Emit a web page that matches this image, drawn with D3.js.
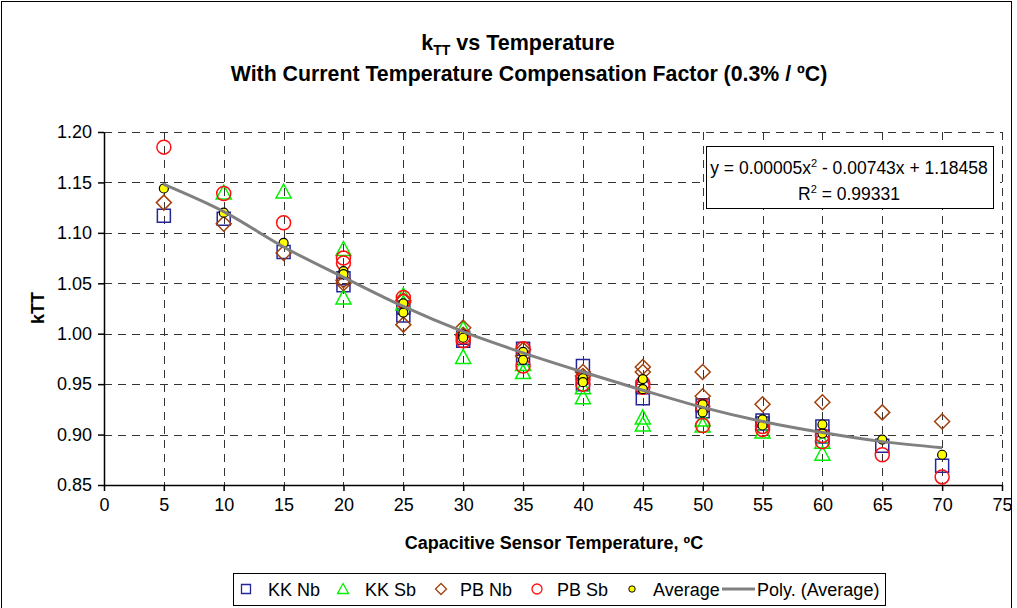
<!DOCTYPE html>
<html>
<head>
<meta charset="utf-8">
<script src="https://cdn.jsdelivr.net/npm/d3@7"></script>
<style>
  body { margin: 0; background: #fff; }
  text { font-family: "Liberation Sans", Arial, sans-serif; }
</style>
</head>
<body>
<div id="chart"></div>
<script>
var svgWidth = 1017;
var svgHeight = 608;

// plot area in page pixels
var margin = { top: 132, right: 15, bottom: 122, left: 104 };
var plotWidth = 1002 - margin.left;
var plotHeight = 485 - margin.top;

// Data: [temperature, kTT]
var kkNb = [[5,1.117],[10,1.114],[15,1.081],[20,1.055],[20,1.048],[25,1.026],[25,1.018],
  [30,0.996],[30,0.993],[35,0.985],[35,0.976],[40,0.968],[40,0.950],[45,0.947],[45,0.936],
  [50,0.929],[50,0.923],[55,0.914],[55,0.911],[60,0.908],[60,0.898],[65,0.889],[70,0.869]];
var kkSb = [[10,1.140],[15,1.141],[20,1.084],[20,1.036],[25,1.038],[25,1.030],[30,1.005],[30,0.977],
  [35,0.970],[35,0.962],[40,0.947],[40,0.937],[45,0.917],[45,0.910],[50,0.915],[50,0.909],
  [55,0.903],[60,0.893],[60,0.881]];
var pbNb = [[5,1.130],[10,1.109],[15,1.080],[20,1.053],[20,1.050],[25,1.033],[25,1.009],
  [30,1.006],[30,0.999],[35,0.984],[35,0.978],[40,0.962],[40,0.958],[45,0.967],[45,0.962],
  [50,0.962],[50,0.938],[55,0.930],[60,0.932],[65,0.922],[70,0.913]];
var pbSb = [[5,1.185],[10,1.139],[15,1.110],[20,1.075],[20,1.070],[25,1.036],[25,1.032],
  [30,0.997],[30,0.993],[35,0.985],[35,0.968],[40,0.955],[40,0.950],[45,0.951],[45,0.947],
  [50,0.928],[50,0.909],[55,0.908],[55,0.905],[60,0.899],[60,0.893],[65,0.880],[70,0.858]];
var average = [[5,1.144],[10,1.120],[15,1.090],[20,1.062],[20,1.059],[25,1.030],[25,1.021],
  [30,0.999],[30,0.996],[35,0.982],[35,0.974],[40,0.956],[40,0.952],[45,0.955],[45,0.945],
  [50,0.930],[50,0.922],[55,0.915],[55,0.909],[60,0.910],[60,0.901],[65,0.895],[70,0.880]];
// Poly. (Average) trendline as drawn
var trend = [[5,1.148],[10,1.121],[15,1.086],[20,1.056],[25,1.027],[30,1.002],[35,0.981],
  [40,0.962],[45,0.944],[50,0.927],[55,0.913],[60,0.902],[65,0.893],[70,0.887]];

var xTicks = d3.range(0, 80, 5);
var yTicks = [0.85, 0.90, 0.95, 1.00, 1.05, 1.10, 1.15, 1.20];
var legendLabels = ["KK Nb", "KK Sb", "PB Nb", "PB Sb", "Average", "Poly. (Average)"];
var equationLines = ["y = 0.00005x", "R", " = 0.99331"];

var svg = d3.select("#chart")
  .append("svg")
  .attr("width", svgWidth)
  .attr("height", svgHeight);

// outer chart border
svg.append("rect")
  .attr("x", 1.5).attr("y", 1.5)
  .attr("width", 1010).attr("height", 640)
  .attr("fill", "none").attr("stroke", "#000").attr("stroke-width", 1);

var plot = svg.append("g")
  .attr("transform", `translate(${margin.left}, ${margin.top})`);

var x = d3.scaleLinear().domain([0, 75]).range([0, plotWidth]);
var y = d3.scaleLinear().domain([0.85, 1.20]).range([plotHeight, 0]);

// grid
plot.append("g").selectAll("line")
  .data(yTicks.slice(1))
  .enter().append("line")
  .attr("x1", 0).attr("x2", plotWidth)
  .attr("y1", d => Math.round(y(d)) + 0.5).attr("y2", d => Math.round(y(d)) + 0.5)
  .attr("stroke", "#333").attr("stroke-dasharray", "8,6");

plot.append("g").selectAll("line")
  .data(xTicks.slice(1))
  .enter().append("line")
  .attr("y1", 0).attr("y2", plotHeight)
  .attr("x1", d => Math.round(x(d)) + 0.5).attr("x2", d => Math.round(x(d)) + 0.5)
  .attr("stroke", "#333").attr("stroke-dasharray", "8,6");

// axes
var bottomAxis = d3.axisBottom(x).tickValues(xTicks).tickSize(6).tickPadding(7).tickSizeOuter(0);
var leftAxis = d3.axisLeft(y).tickValues(yTicks).tickFormat(d3.format(".2f")).tickSize(6).tickPadding(6).tickSizeOuter(0);

var gx = plot.append("g")
  .attr("transform", `translate(0, ${plotHeight})`)
  .call(bottomAxis);
var gy = plot.append("g").call(leftAxis);

[gx, gy].forEach(function(g) {
  g.selectAll("text").style("font-size", "18px").attr("fill", "#000")
    .style("font-family", "'Liberation Sans', Arial, sans-serif");
  g.selectAll("line, path").attr("stroke", "#000").attr("stroke-width", 1.5);
});

// marker shapes
function shapePath(kind, s) {
  var h = s / 2;
  if (kind === "square") return `M${-h},${-h}H${h}V${h}H${-h}Z`;
  if (kind === "triangle") return `M0,${-h - 1}L${h + 1},${h}L${-h - 1},${h}Z`;
  if (kind === "diamond") return `M0,${-h - 1}L${h + 1},0L0,${h + 1}L${-h - 1},0Z`;
  return null;
}

var series = [
  { data: kkNb, kind: "square", color: "#25259a" },
  { data: kkSb, kind: "triangle", color: "#00f000" },
  { data: pbNb, kind: "diamond", color: "#a0400c" },
  { data: pbSb, kind: "circle", color: "#ff1010" }
];

series.forEach(function(s) {
  var g = plot.append("g");
  if (s.kind === "circle") {
    g.selectAll("circle").data(s.data).enter().append("circle")
      .attr("cx", d => x(d[0])).attr("cy", d => y(d[1]))
      .attr("r", 7)
      .attr("fill", "none").attr("stroke", s.color).attr("stroke-width", 1.5);
  } else {
    g.selectAll("path").data(s.data).enter().append("path")
      .attr("d", shapePath(s.kind, 13))
      .attr("transform", d => `translate(${x(d[0])}, ${y(d[1])})`)
      .attr("fill", "none").attr("stroke", s.color).attr("stroke-width", 1.5);
  }
});

plot.append("g").selectAll("circle")
  .data(average).enter().append("circle")
  .attr("cx", d => x(d[0])).attr("cy", d => y(d[1]))
  .attr("r", 4.5)
  .attr("fill", "#ffff00").attr("stroke", "#000").attr("stroke-width", 1.2);

var line = d3.line().x(d => x(d[0])).y(d => y(d[1])).curve(d3.curveMonotoneX);
plot.append("path")
  .datum(trend)
  .attr("d", line)
  .attr("fill", "none").attr("stroke", "#808080").attr("stroke-width", 3);

// equation box
var eq = svg.append("g");
eq.append("rect")
  .attr("x", 706.5).attr("y", 146.5).attr("width", 287).attr("height", 62)
  .attr("fill", "#fff").attr("stroke", "#000").attr("stroke-width", 1);
var eq1 = eq.append("text").attr("x", 849).attr("y", 174)
  .attr("text-anchor", "middle").style("font-size", "17.5px");
eq1.append("tspan").text(equationLines[0]);
eq1.append("tspan").attr("dy", -7).style("font-size", "11px").text("2");
eq1.append("tspan").attr("dy", 7).text(" - 0.00743x + 1.18458");
var eq2 = eq.append("text").attr("x", 849).attr("y", 200)
  .attr("text-anchor", "middle").style("font-size", "17.5px");
eq2.append("tspan").text(equationLines[1]);
eq2.append("tspan").attr("dy", -7).style("font-size", "11px").text("2");
eq2.append("tspan").attr("dy", 7).text(equationLines[2]);

// titles
var t1 = svg.append("text").attr("x", 518).attr("y", 50)
  .attr("text-anchor", "middle").style("font-size", "21.5px").style("font-weight", "bold");
t1.append("tspan").text("k");
t1.append("tspan").attr("dy", 5).style("font-size", "14px").text("TT");
t1.append("tspan").attr("dy", -5).text(" vs Temperature");
svg.append("text").attr("x", 529).attr("y", 81)
  .attr("text-anchor", "middle").style("font-size", "21.3px").style("font-weight", "bold")
  .text("With Current Temperature Compensation Factor (0.3% / ºC)");

svg.append("text").attr("x", 554).attr("y", 549)
  .attr("text-anchor", "middle").style("font-size", "18px").style("font-weight", "bold")
  .text("Capacitive Sensor Temperature, ºC");

svg.append("text")
  .attr("transform", "translate(44, 308) rotate(-90)")
  .attr("text-anchor", "middle").style("font-size", "18px").style("font-weight", "bold")
  .text("kTT");

// legend
var legend = svg.append("g");
legend.append("rect")
  .attr("x", 233.5).attr("y", 573.5).attr("width", 652).attr("height", 32)
  .attr("fill", "#fff").attr("stroke", "#000").attr("stroke-width", 1);
var legendX = [246, 343, 441, 537, 632];
var ly = 589;
series.forEach(function(s, i) {
  if (s.kind === "circle") {
    legend.append("circle").attr("cx", legendX[i]).attr("cy", ly).attr("r", 5)
      .attr("fill", "none").attr("stroke", s.color).attr("stroke-width", 1.3);
  } else {
    legend.append("path").attr("d", shapePath(s.kind, 9))
      .attr("transform", `translate(${legendX[i]}, ${ly})`)
      .attr("fill", "none").attr("stroke", s.color).attr("stroke-width", 1.3);
  }
});
legend.append("circle").attr("cx", legendX[4]).attr("cy", ly).attr("r", 3.2)
  .attr("fill", "#ffff00").attr("stroke", "#000").attr("stroke-width", 1);
legend.append("line").attr("x1", 722).attr("x2", 755).attr("y1", ly).attr("y2", ly)
  .attr("stroke", "#808080").attr("stroke-width", 3);
var legendTextX = [268, 365, 460, 557, 653, 757];
legendLabels.forEach(function(lbl, i) {
  legend.append("text").attr("x", legendTextX[i]).attr("y", ly + 6.5)
    .style("font-size", "18px").text(lbl);
});
</script>
</body>
</html>
